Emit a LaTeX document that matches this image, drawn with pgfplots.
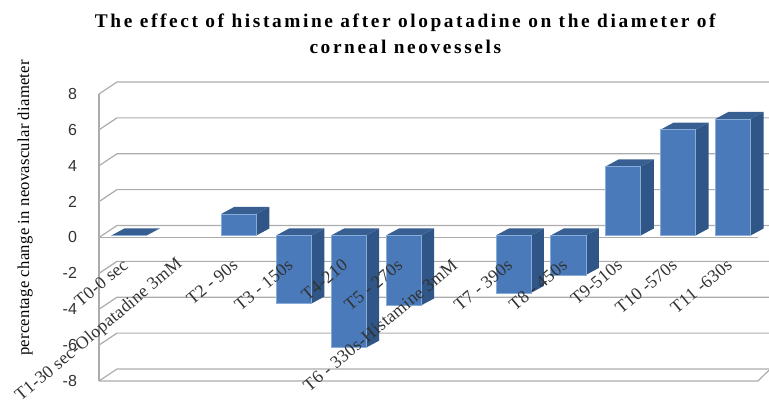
\documentclass[border=0pt]{standalone}
\usepackage{pgfplots}
\pgfplotsset{compat=1.18}
\usepackage{fontspec}
\setmainfont{Liberation Serif}
\newfontfamily\ticksfont{Liberation Sans}
\newfontfamily\titlefont[LetterSpace=13.5]{Liberation Serif}
\newfontfamily\axisfont[LetterSpace=1.5]{Liberation Serif}
\definecolor{gridgray}{RGB}{172,172,172}
\definecolor{barfront}{RGB}{74,122,186}
\definecolor{barside}{RGB}{47,86,134}
\definecolor{bartop}{RGB}{55,95,146}
\definecolor{baredge}{RGB}{135,172,215}
\definecolor{labelink}{RGB}{50,50,50}

% One bar drawn as three faces: depth offsets are given in data units.
\newcommand{\solidbar}[2]{%
  \pgfmathsetmacro{\xa}{#1-0.32}\pgfmathsetmacro{\xb}{#1+0.32}%
  \pgfmathsetmacro{\xc}{#1+0.32+0.237}\pgfmathsetmacro{\xd}{#1-0.32+0.237}%
  \pgfmathsetmacro{\va}{max(#2,0)}\pgfmathsetmacro{\vb}{min(#2,0)}%
  \pgfmathsetmacro{\vc}{\va+0.39}\pgfmathsetmacro{\vd}{\vb+0.39}%
  \edef\faces{%
    \noexpand\addplot[draw=none,fill=barside] coordinates {(\xb,\vb)(\xc,\vd)(\xc,\vc)(\xb,\va)} --cycle;
    \noexpand\addplot[draw=none,fill=bartop] coordinates {(\xa,\va)(\xb,\va)(\xc,\vc)(\xd,\vc)} --cycle;
    \noexpand\addplot[draw=baredge,line width=0.4pt,fill=barfront] coordinates {(\xa,\vb)(\xb,\vb)(\xb,\va)(\xa,\va)} --cycle;
  }\faces}

\begin{document}
\begin{tikzpicture}
\path[use as bounding box] (0,0) rectangle (576.75pt,302.25pt);

% Title
\node[align=center,font={\titlefont\bfseries\fontsize{14.5pt}{19.5pt}\selectfont}] at (304pt,277pt)
  {The effect of histamine after olopatadine on the diameter of\\corneal neovessels};

% Frame: walls, gridlines and the value scale
\begin{axis}[
  at={(74.25pt,16.5pt)},anchor=south west,
  scale only axis,width=494.25pt,height=215.25pt,
  xmin=-0.5,xmax=11.5,ymin=-8,ymax=8,
  clip=false,
  axis x line=none,
  axis y line=left,
  axis line style={draw=gridgray,line width=0.9pt,-},
  ytick={-8,-6,...,8},
  major tick length=0pt,
  tick label style={font=\ticksfont\fontsize{12pt}{14pt}\selectfont,text=labelink},
  /pgf/number format/assume math mode=true,
  yticklabel style={xshift=-13pt},
  ylabel={percentage change in neovascular diameter},
  ylabel style={font=\axisfont\fontsize{12.5pt}{14pt}\selectfont,at={(axis description cs:-0.112,0.603)},anchor=center},
]
\pgfplotsinvokeforeach{-8,-6,...,8}{
  \draw[gridgray,line width=0.9pt] (axis cs:-0.5,#1) -- (axis cs:-0.172,#1+0.669) -- (axis cs:11.70,#1+0.669);
}
\draw[gridgray,line width=0.9pt] (axis cs:-0.5,0) -- (axis cs:11.5,0);
\draw[gridgray,line width=0.9pt] (axis cs:-0.5,-8) -- (axis cs:11.5,-8) -- (axis cs:11.70,-7.4);
\end{axis}

% Bars, set slightly behind the front plane
\begin{axis}[
  at={(76.1pt,18pt)},anchor=south west,
  scale only axis,width=494.25pt,height=215.25pt,
  xmin=-0.5,xmax=11.5,ymin=-8,ymax=8,
  clip=false,
  hide axis,
]
\solidbar{0}{0}
\solidbar{2}{1.2}
\solidbar{3}{-3.8}
\solidbar{4}{-6.25}
\solidbar{5}{-3.9}
\solidbar{7}{-3.2}
\solidbar{8}{-2.2}
\solidbar{9}{3.85}
\solidbar{10}{5.9}
\solidbar{11}{6.5}
\end{axis}

% Category names, laid over the bars
\begin{axis}[
  at={(76.1pt,18pt)},anchor=south west,
  scale only axis,width=494.25pt,height=215.25pt,
  xmin=-0.5,xmax=11.5,ymin=-8,ymax=8,
  clip=false,
  axis x line=middle,
  axis y line=none,
  axis line style={draw=none},
  major tick length=0pt,
  xtick={0,...,11},
  xticklabels={T0-0 sec,T1-30 sec-Olopatadine 3mM,T2 - 90s,T3 - 150s,T4-210,T5 - 270s,T6 - 330s-Histamine 3mM,T7 - 390s,T8 - 450s,T9-510s,T10 -570s,T11 -630s},
  xticklabel style={font=\axisfont\fontsize{13.3pt}{15pt}\selectfont,yshift=-18pt,rotate=40,anchor=east,text=labelink},
]
\addplot[draw=none] coordinates {(0,0)(11,0)};
\end{axis}
\end{tikzpicture}
\end{document}
